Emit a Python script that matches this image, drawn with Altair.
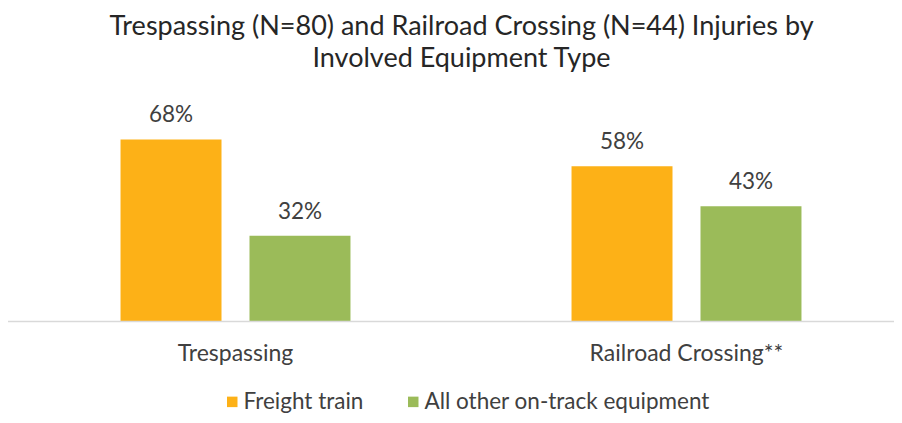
import altair as alt
import pandas as pd

categories = ["Trespassing", "Railroad Crossing**"]
series = ["Freight train", "All other on-track equipment"]
freight_values = [68, 58]
other_values = [32, 43]
colors = ["#FDB117", "#9BBB59"]

rows = []
for i, c in enumerate(categories):
    rows.append({"category": c, "series": series[0], "value": freight_values[i]})
    rows.append({"category": c, "series": series[1], "value": other_values[i]})
df = pd.DataFrame(rows)
df["label"] = df["value"].astype(str) + "%"

FONT = "Lato"

x_enc = alt.X("category:N", sort=categories,
              scale=alt.Scale(range=[0, 902], paddingInner=0, paddingOuter=0),
              axis=alt.Axis(title=None, labelAngle=0, domain=False, ticks=False,
                            labelFontSize=23, labelFont=FONT, labelColor="#404040",
                            labelPadding=21, labelLimit=400))
xo_enc = alt.XOffset("series:N", sort=series,
                     scale=alt.Scale(paddingInner=0.217, paddingOuter=0.857))
y_enc = alt.Y("value:Q", scale=alt.Scale(domain=[0, 90]), axis=None)

bars = alt.Chart(df).mark_bar().encode(
    x=x_enc, xOffset=xo_enc, y=y_enc,
    color=alt.Color("series:N", sort=series,
                    scale=alt.Scale(domain=series, range=colors),
                    legend=alt.Legend(title=None, orient="none", direction="horizontal",
                                      legendX=211, legendY=310, symbolType="square",
                                      symbolSize=110, symbolStrokeWidth=0,
                                      labelFontSize=22.5, labelFont=FONT, labelLimit=500,
                                      labelColor="#404040", columnPadding=38,
                                      labelOffset=0, padding=0)),
)

labels = alt.Chart(df).mark_text(baseline="alphabetic", dy=-17, fontSize=22.5,
                                 font=FONT, color="#404040").encode(
    x=x_enc, xOffset=xo_enc, y=y_enc, text="label:N"
)

baseline = alt.Chart(pd.DataFrame({"v": [0]})).mark_rule(color="#D9D9D9", strokeWidth=1.5).encode(
    x=alt.value(-2), x2=alt.value(900), y=alt.value(241)
)

chart = alt.layer(bars, labels, baseline).properties(
    width=884, height=241,
    autosize=alt.AutoSizeParams(type="none"),
    padding={"left": 2, "top": 72.5, "right": 0, "bottom": 93.5},
    title=alt.TitleParams(
        ["Trespassing (N=80) and Railroad Crossing (N=44) Injuries by",
         "Involved Equipment Type"],
        anchor="middle", frame="group", fontSize=27, font=FONT, fontWeight="normal",
        color="#262626", lineHeight=32, offset=8, dx=9.5),
).configure_view(stroke=None)

chart.save("out.html", embed_options={"renderer": "svg", "actions": False})
